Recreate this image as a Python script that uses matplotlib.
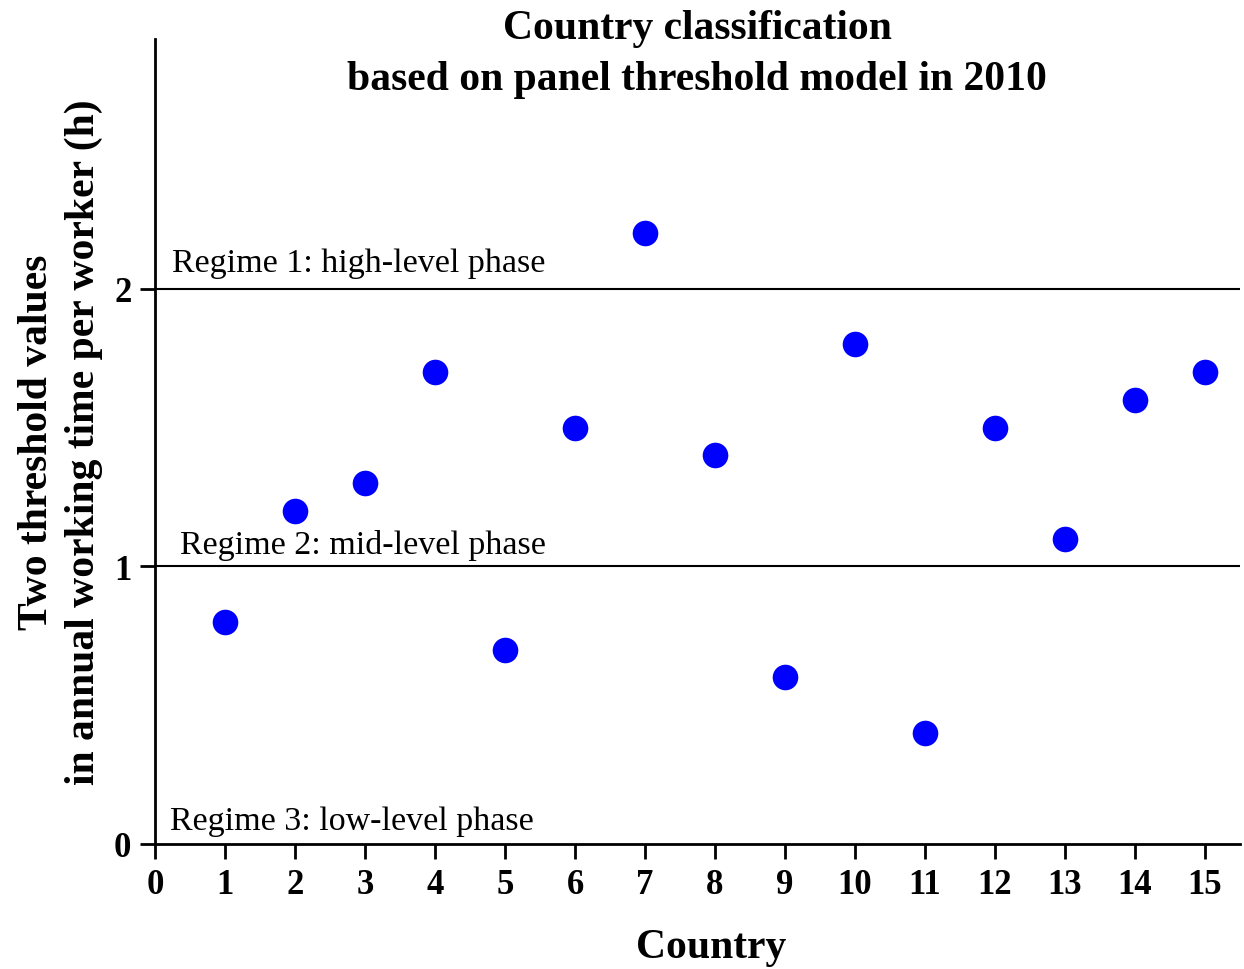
import matplotlib
matplotlib.use('Agg')
import matplotlib.pyplot as plt

plt.rcParams['font.family'] = ['Liberation Serif', 'DejaVu Serif']

countries = [1, 2, 3, 4, 5, 6, 7, 8, 9, 10, 11, 12, 13, 14, 15]
values = [0.8, 1.2, 1.3, 1.7, 0.7, 1.5, 2.2, 1.4, 0.6, 1.8, 0.4, 1.5, 1.1, 1.6, 1.7]
thresholds = [1, 2]
regime_labels = ['Regime 1: high-level phase',
                 'Regime 2: mid-level phase',
                 'Regime 3: low-level phase']

fig = plt.figure(figsize=(12.44, 9.70), dpi=100)
ax = fig.add_axes([0.1246, 0.1289, 0.8722, 0.8299])

for t in thresholds:
    ax.plot([0, 15.5], [t, t], color='black', lw=1.5)

ax.scatter(countries, values, s=340, color='#0000ff', zorder=3, linewidths=0)

ax.text(0.24, 2.065, regime_labels[0], fontsize=24.5)
ax.text(0.36, 1.05, regime_labels[1], fontsize=24.5)
ax.text(0.21, 0.054, regime_labels[2], fontsize=24.5)

ax.set_xlim(0, 15.5)
ax.set_ylim(0, 2.9)
ax.set_xticks(range(0, 16))
ax.set_yticks([0, 1, 2])
ax.spines['top'].set_visible(False)
ax.spines['right'].set_visible(False)
ax.spines['left'].set_linewidth(2)
ax.spines['bottom'].set_linewidth(2)
ax.tick_params(direction='out', length=11, width=2, labelsize=25, pad=6)
for lab in ax.get_xticklabels() + ax.get_yticklabels():
    lab.set_fontweight('bold')

ax.set_xlabel('Country', fontsize=30, fontweight='bold')
ax.xaxis.set_label_coords(0.513, -0.105)
ax.set_ylabel('Two threshold values\nin annual working time per worker (h)',
              fontsize=30, fontweight='bold', linespacing=1.3)
ax.yaxis.set_label_coords(-0.048, 0.5)
fig.text(0.5605, 0.99, 'Country classification\nbased on panel threshold model in 2010',
         fontsize=30, fontweight='bold', ha='center', va='top', linespacing=1.45)

plt.savefig('out.png', dpi=100)
